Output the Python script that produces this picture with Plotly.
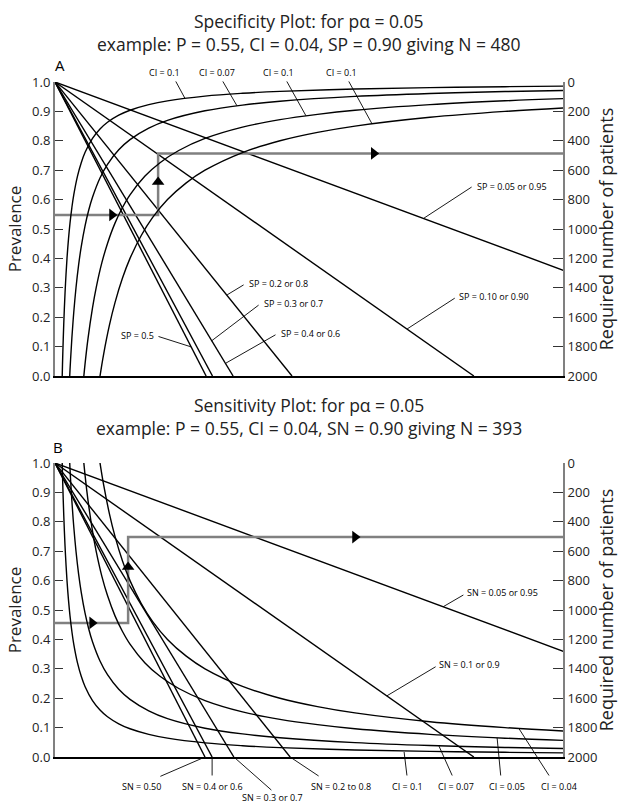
import plotly.graph_objects as go

# ---------------- data ----------------
# Panel A: specificity lines, x-position where each line reaches prevalence 0
sp_names = ["SP = 0.5", "SP = 0.4 or 0.6", "SP = 0.3 or 0.7", "SP = 0.2 or 0.8", "SP = 0.10 or 0.90", "SP = 0.05 or 0.95"]
sp_x_at_zero = [4.03, 4.20, 4.75, 6.32, 11.17, 21.17]

# Panel A: CI curves (x, required N on right axis)
ciA_01_x = [0.18, 0.2, 0.22, 0.25, 0.28, 0.32, 0.36, 0.4, 0.45, 0.5, 0.6, 0.7, 0.8, 1.0, 1.2, 1.4, 1.7, 2.0, 2.5, 3, 4, 5, 6, 8, 10, 12, 13.55]
ciA_01_n = [2134, 1921, 1746, 1537, 1372, 1200, 1067, 960, 854, 768, 640, 549, 480, 384, 320, 274, 226, 192, 154, 128, 96, 77, 64, 48, 38, 32, 28]
ciA_007_x = [0.36, 0.4, 0.45, 0.5, 0.56, 0.63, 0.7, 0.8, 0.9, 1.0, 1.2, 1.4, 1.7, 2.0, 2.5, 3, 4, 5, 6, 8, 10, 12, 13.55]
ciA_007_n = [2178, 1960, 1742, 1568, 1400, 1244, 1120, 980, 871, 784, 653, 560, 461, 392, 314, 261, 196, 157, 131, 98, 78, 65, 58]
ciA_005_x = [0.72, 0.8, 0.88, 1.0, 1.1, 1.25, 1.4, 1.6, 1.8, 2.0, 2.4, 2.8, 3.3, 4, 5, 6, 7, 8, 10, 12, 13.55]
ciA_005_n = [2134, 1921, 1746, 1537, 1397, 1229, 1098, 960, 854, 768, 640, 549, 466, 384, 307, 256, 220, 192, 154, 128, 113]
ciA_004_x = [1.12, 1.2, 1.3, 1.45, 1.6, 1.8, 2.0, 2.3, 2.6, 3.0, 3.5, 4, 5, 6, 7, 8, 10, 12, 13.55]
ciA_004_n = [2144, 2001, 1847, 1656, 1501, 1334, 1200, 1044, 923, 800, 686, 600, 480, 400, 343, 300, 240, 200, 177]

# Panel B: sensitivity lines
sn_names = ["SN = 0.50", "SN = 0.4 or 0.6", "SN = 0.3 or 0.7", "SN = 0.2 to 0.8", "SN = 0.1 or 0.9", "SN = 0.05 or 0.95"]
sn_x_at_zero = [4.00, 4.19, 4.77, 6.27, 11.17, 21.17]

# Panel B: CI curves
ciB_01_x = ciA_01_x
ciB_01_n = [-134, 79, 254, 463, 628, 800, 933, 1040, 1146, 1232, 1360, 1451, 1520, 1616, 1680, 1726, 1774, 1808, 1846, 1872, 1904, 1923, 1936, 1952, 1962, 1968, 1972]
ciB_007_x = ciA_007_x
ciB_007_n = [-178, 40, 258, 432, 600, 756, 880, 1020, 1129, 1216, 1347, 1440, 1539, 1608, 1686, 1739, 1804, 1843, 1869, 1902, 1922, 1935, 1942]
ciB_005_x = ciA_005_x
ciB_005_n = [-134, 79, 254, 463, 603, 771, 902, 1040, 1146, 1232, 1360, 1451, 1534, 1616, 1693, 1744, 1780, 1808, 1846, 1872, 1887]
ciB_004_x = ciA_004_x
ciB_004_n = [-144, -1, 153, 344, 499, 666, 800, 956, 1077, 1200, 1314, 1400, 1520, 1600, 1657, 1700, 1760, 1800, 1823]

# Worked examples (gray paths)
exA_x = [0, 2.75, 2.75, 13.55]
exA_p = [0.548, 0.548, 0.757, 0.757]
exA_arrow_x = [1.52, 2.75, 8.5]
exA_arrow_p = [0.548, 0.66, 0.757]
exB_x = [0, 1.95, 1.95, 13.55]
exB_p = [0.456, 0.456, 0.748, 0.748]
exB_arrow_x = [0.99, 1.95, 8.0]
exB_arrow_p = [0.456, 0.646, 0.748]
arrow_symbols = ["triangle-right", "triangle-up", "triangle-right"]

prev_ticks = [0.0, 0.1, 0.2, 0.3, 0.4, 0.5, 0.6, 0.7, 0.8, 0.9, 1.0]
n_ticks = [0, 200, 400, 600, 800, 1000, 1200, 1400, 1600, 1800, 2000]

titleA = ["Specificity Plot: for pα = 0.05", "example: P = 0.55, CI = 0.04, SP = 0.90 giving N = 480"]
titleB = ["Sensitivity Plot: for pα = 0.05", "example: P = 0.55, CI = 0.04, SN = 0.90 giving N = 393"]

# ---------------- figure ----------------
FONT = "Open Sans"
W, H = 618, 804
XMAX = 13.547
GRAY = "#808080"

fig = go.Figure()

def line_trace(x, y, xa, ya, width=1.4, shape="linear", color="black"):
    fig.add_trace(go.Scatter(x=x, y=y, xaxis=xa, yaxis=ya, mode="lines",
                             line=dict(color=color, width=width, shape=shape),
                             hoverinfo="skip", showlegend=False))

# Panel A
for xe in sp_x_at_zero:
    line_trace([0, xe], [1, 0], "x", "y")
for cx, cn in [(ciA_01_x, ciA_01_n), (ciA_007_x, ciA_007_n), (ciA_005_x, ciA_005_n), (ciA_004_x, ciA_004_n)]:
    line_trace(cx, cn, "x", "y2", shape="spline")
line_trace(exA_x, exA_p, "x", "y", width=2.5, color=GRAY)
fig.add_trace(go.Scatter(x=exA_arrow_x, y=exA_arrow_p, xaxis="x", yaxis="y", mode="markers",
                         marker=dict(symbol=arrow_symbols, size=11, color="black"),
                         hoverinfo="skip", showlegend=False))

# Panel B
for xe in sn_x_at_zero:
    line_trace([0, xe], [1, 0], "x2", "y3")
for cx, cn in [(ciB_01_x, ciB_01_n), (ciB_007_x, ciB_007_n), (ciB_005_x, ciB_005_n), (ciB_004_x, ciB_004_n)]:
    line_trace(cx, cn, "x2", "y4", shape="spline")
line_trace(exB_x, exB_p, "x2", "y3", width=2.5, color=GRAY)
fig.add_trace(go.Scatter(x=exB_arrow_x, y=exB_arrow_p, xaxis="x2", yaxis="y3", mode="markers",
                         marker=dict(symbol=arrow_symbols, size=11, color="black"),
                         hoverinfo="skip", showlegend=False))

xdom = [55 / W, 563 / W]
domA = [1 - 376 / H, 1 - 82 / H]
domB = [1 - 757 / H, 1 - 463 / H]

tickfont = dict(family=FONT, size=13, color="#222")
titlefont = dict(family=FONT, size=17, color="#222")

def xax(anchor):
    return dict(domain=xdom, range=[0, XMAX], anchor=anchor, showline=True, linecolor="black",
                linewidth=1.5, showticklabels=False, ticks="", showgrid=False, zeroline=False,
                automargin=False)

def yleft(dom, anchor):
    return dict(domain=dom, range=[0, 1], anchor=anchor, tickvals=prev_ticks,
                ticktext=[f"{v:.1f}" for v in prev_ticks], ticks="inside", ticklen=8,
                tickcolor="#333", tickwidth=1.3, showline=True, linecolor=GRAY, linewidth=2,
                showgrid=False, zeroline=False, tickfont=tickfont, automargin=False,
                title=dict(text="Prevalence", font=titlefont, standoff=6))

def yright(over, anchor):
    return dict(overlaying=over, side="right", anchor=anchor, range=[2000, 0], tickvals=n_ticks,
                ticks="inside", ticklen=10, tickcolor="#333", tickwidth=1.3, showline=True,
                linecolor=GRAY, linewidth=2, showgrid=False, zeroline=False, tickfont=tickfont,
                automargin=False,
                title=dict(text="Required number of patients", font=dict(family=FONT, size=18, color="#222"),
                           standoff=3))

def paper_x(u):
    return xdom[0] + u / XMAX * (xdom[1] - xdom[0])

def paper_y(p, dom):
    return dom[0] + p * (dom[1] - dom[0])

annotations = []

def label(text, x, y, dom, xanchor="center", size=9):
    annotations.append(dict(text=text, x=paper_x(x), y=paper_y(y, dom), xref="paper", yref="paper",
                            xanchor=xanchor, yanchor="middle", showarrow=False,
                            font=dict(family=FONT, size=size, color="black")))

def leader(tail, head, xr, yr):
    annotations.append(dict(text="", x=head[0], y=head[1], ax=tail[0], ay=tail[1], xref=xr, yref=yr,
                            axref=xr, ayref=yr, showarrow=True, arrowhead=0, arrowwidth=0.9,
                            arrowcolor="black", standoff=0, startstandoff=0))

def title_block(lines, ypx):
    annotations.append(dict(text="<br>".join(lines), x=0.5, y=1 - ypx / H, xref="paper", yref="paper",
                            showarrow=False, xanchor="center", yanchor="middle",
                            font=dict(family=FONT, size=17.5, color="#222")))

# titles and panel letters
title_block(titleA, 32.5)
title_block(titleB, 416)
label("A", 0.13, 1.058, domA, size=15)
label("B", 0.08, 1.054, domB, size=15)

# Panel A labels
ciA_labels = ["CI = 0.1", "CI = 0.07", "CI = 0.1", "CI = 0.1"]
ciA_label_x = [2.91, 4.32, 5.95, 7.63]
ciA_tails = [(3.2, 1.007), (4.453, 1.007), (6.16, 1.007), (7.813, 1.007)]
ciA_heads = [(3.467, 0.944), (4.853, 0.919), (6.693, 0.885), (8.453, 0.858)]
for t, lx, tl, hd in zip(ciA_labels, ciA_label_x, ciA_tails, ciA_heads):
    label(t, lx, 1.034, domA)
    leader(tl, hd, "x", "y")

spA = [
    ("SP = 0.05 or 0.95", 11.2, 0.643, "left", (11.15, 0.646), (9.84, 0.537)),
    ("SP = 0.10 or 0.90", 10.72, 0.269, "left", (10.7, 0.268), (9.39, 0.16)),
    ("SP = 0.2 or 0.8", 5.12, 0.316, "left", (5.07, 0.313), (4.59, 0.276)),
    ("SP = 0.3 or 0.7", 5.52, 0.248, "left", (5.47, 0.245), (4.18, 0.12)),
    ("SP = 0.4 or 0.6", 5.97, 0.146, "left", (5.92, 0.143), (4.56, 0.044)),
    ("SP = 0.5", 2.69, 0.139, "right", (2.72, 0.136), (3.63, 0.099)),
]
for t, lx, ly, anc, tl, hd in spA:
    label(t, lx, ly, domA, xanchor=anc)
    leader(tl, hd, "x", "y")

# Panel B labels
snB = [
    ("SN = 0.05 or 0.95", 10.93, 0.558, "left", (10.93, 0.554), (10.35, 0.511)),
    ("SN = 0.1 or 0.9", 10.19, 0.313, "left", (10.19, 0.31), (8.85, 0.208)),
]
for t, lx, ly, anc, tl, hd in snB:
    label(t, lx, ly, domB, xanchor=anc)
    leader(tl, hd, "x2", "y3")

bottomB = [
    ("SN = 0.50", 2.32, -0.099, (2.77, -0.068), (4.0, 0.0)),
    ("SN = 0.4 or 0.6", 4.21, -0.099, (4.19, -0.068), (4.19, 0.0)),
    ("SN = 0.3 or 0.7", 5.79, -0.137, (5.81, -0.117), (4.77, 0.0)),
    ("SN = 0.2 to 0.8", 7.63, -0.099, (7.07, -0.068), (6.27, 0.0)),
    ("CI = 0.1", 9.41, -0.099, (9.39, -0.068), (9.31, 0.017)),
    ("CI = 0.07", 10.69, -0.099, (10.61, -0.068), (10.24, 0.037)),
    ("CI = 0.05", 12.05, -0.099, (11.89, -0.068), (11.79, 0.065)),
    ("CI = 0.04", 13.44, -0.099, (13.2, -0.068), (12.37, 0.097)),
]
for t, lx, ly, tl, hd in bottomB:
    label(t, lx, ly, domB)
    leader(tl, hd, "x2", "y3")

fig.update_layout(
    width=W, height=H, margin=dict(l=0, r=0, t=0, b=0, pad=0, autoexpand=False),
    paper_bgcolor="white", plot_bgcolor="white", showlegend=False,
    xaxis=xax("y"), yaxis=yleft(domA, "x"), yaxis2=yright("y", "x"),
    xaxis2=xax("y3"), yaxis3=yleft(domB, "x2"), yaxis4=yright("y3", "x2"),
    annotations=annotations,
)

fig.write_html("out.html", config={"displayModeBar": False},
               post_script="document.body.style.margin='0';document.body.style.padding='0';")
